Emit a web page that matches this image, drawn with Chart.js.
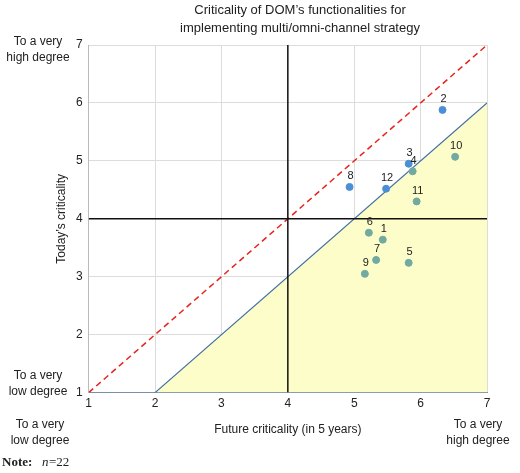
<!DOCTYPE html>
<html>
<head>
<meta charset="utf-8">
<script src="https://cdn.jsdelivr.net/npm/chart.js@4/dist/chart.umd.min.js"></script>
<style>
  body { margin: 0; background: #fff; }
  #wrap { width: 520px; height: 473px; position: relative; }
</style>
</head>
<body>
<div id="wrap"><canvas id="chart"></canvas></div>
<script>
// future criticality (x), today's criticality (y)
const labels = ['1', '2', '3', '4', '5', '6', '7', '8', '9', '10', '11', '12'];
const future = [5.43, 6.33, 5.82, 5.88, 5.82, 5.22, 5.33, 4.93, 5.16, 6.52, 5.94, 5.48];
const today  = [3.64, 5.88, 4.95, 4.82, 3.24, 3.76, 3.29, 4.55, 3.05, 5.07, 4.30, 4.52];
const aboveLine = ['2', '3', '8', '12'];
const axisTicks = [1, 2, 3, 4, 5, 6, 7];

const points = labels.map((l, i) => ({ x: future[i], y: today[i], label: l }));
const pointColors = labels.map(l => aboveLine.includes(l) ? '#4a8fd6' : '#72aaa2');

// draws the point numbers and the extra corner texts
const textPlugin = {
    id: 'texts',
    afterDatasetsDraw(chart) {
        const ctx = chart.ctx;
        const meta = chart.getDatasetMeta(4);
        ctx.save();
        ctx.fillStyle = '#222';
        ctx.font = '11px Arial, "Liberation Sans"';
        ctx.textAlign = 'center';
        ctx.textBaseline = 'bottom';
        meta.data.forEach((el, i) => {
            ctx.fillText(labels[i], el.x + 1, el.y - 5);
        });
        ctx.restore();
    },
    afterDraw(chart) {
        const ctx = chart.ctx;
        const area = chart.chartArea;
        ctx.save();
        ctx.fillStyle = '#222';
        ctx.font = '13px Arial, "Liberation Sans"';
        ctx.textAlign = 'center';
        ctx.textBaseline = 'middle';
        ctx.fillText('Criticality of DOM\u2019s functionalities for', 300, 10);
        ctx.fillText('implementing multi/omni-channel strategy', 300, 28);
        ctx.font = '12px Arial, "Liberation Sans"';
        ctx.fillText('To a very', 38, 42);
        ctx.fillText('high degree', 38, 58);
        ctx.fillText('To a very', 38, 376);
        ctx.fillText('low degree', 38, 392);
        ctx.fillText('To a very', 40, 425);
        ctx.fillText('low degree', 40, 441);
        ctx.fillText('To a very', 478, 425);
        ctx.fillText('high degree', 478, 441);
        ctx.fillText('Future criticality (in 5 years)', (area.left + area.right) / 2, 430);
        ctx.save();
        ctx.translate(62, (area.top + area.bottom) / 2);
        ctx.rotate(-Math.PI / 2);
        ctx.fillText('Today\u2019s criticality', 0, 0);
        ctx.restore();
        ctx.textAlign = 'left';
        ctx.font = 'bold 13px "Liberation Serif", serif';
        ctx.fillText('Note:', 2, 463);
        ctx.font = 'italic 13px "Liberation Serif", serif';
        ctx.fillText('n', 42, 463);
        ctx.font = '13px "Liberation Serif", serif';
        ctx.fillText('=22', 49, 463);
        ctx.restore();
    }
};

new Chart(document.getElementById('chart'), {
    type: 'scatter',
    data: {
        datasets: [
            {
                // shaded triangle under the y = x - 1 line
                data: [{ x: 2, y: 1 }, { x: 7, y: 6 }],
                showLine: true,
                borderColor: '#3f6ea5',
                borderWidth: 1.2,
                backgroundColor: '#fdfdc9',
                fill: 'start',
                pointRadius: 0,
                order: 5
            },
            {
                data: [{ x: 1, y: 1 }, { x: 7, y: 7 }],
                showLine: true,
                borderColor: '#e8231c',
                borderWidth: 1.5,
                borderDash: [6, 4],
                pointRadius: 0,
                order: 4
            },
            {
                data: [{ x: 4, y: 1 }, { x: 4, y: 7 }],
                showLine: true,
                borderColor: '#111',
                borderWidth: 1.5,
                pointRadius: 0,
                order: 3
            },
            {
                data: [{ x: 1, y: 4 }, { x: 7, y: 4 }],
                showLine: true,
                borderColor: '#111',
                borderWidth: 1.5,
                pointRadius: 0,
                order: 2
            },
            {
                data: points,
                backgroundColor: pointColors,
                borderColor: pointColors,
                pointRadius: 3.5,
                order: 0
            }
        ]
    },
    options: {
        responsive: true,
        maintainAspectRatio: false,
        animation: false,
        layout: { padding: { left: 70, right: 33, top: 45, bottom: 58 } },
        plugins: {
            legend: { display: false },
            tooltip: { enabled: false }
        },
        scales: {
            x: {
                type: 'linear',
                min: 1, max: 7,
                afterBuildTicks: s => { s.ticks = axisTicks.map(v => ({ value: v })); },
                ticks: { color: '#222', font: { size: 12, family: 'Arial, "Liberation Sans"' }, padding: 4 },
                grid: { color: '#dcdcdc', drawTicks: false },
                border: { color: '#7a8fa8' }
            },
            y: {
                type: 'linear',
                min: 1, max: 7,
                afterBuildTicks: s => { s.ticks = axisTicks.map(v => ({ value: v })); },
                ticks: { color: '#222', font: { size: 12, family: 'Arial, "Liberation Sans"' }, padding: 6 },
                grid: { color: '#dcdcdc', drawTicks: false },
                border: { color: '#bbb' }
            }
        }
    },
    plugins: [textPlugin]
});
</script>
</body>
</html>
